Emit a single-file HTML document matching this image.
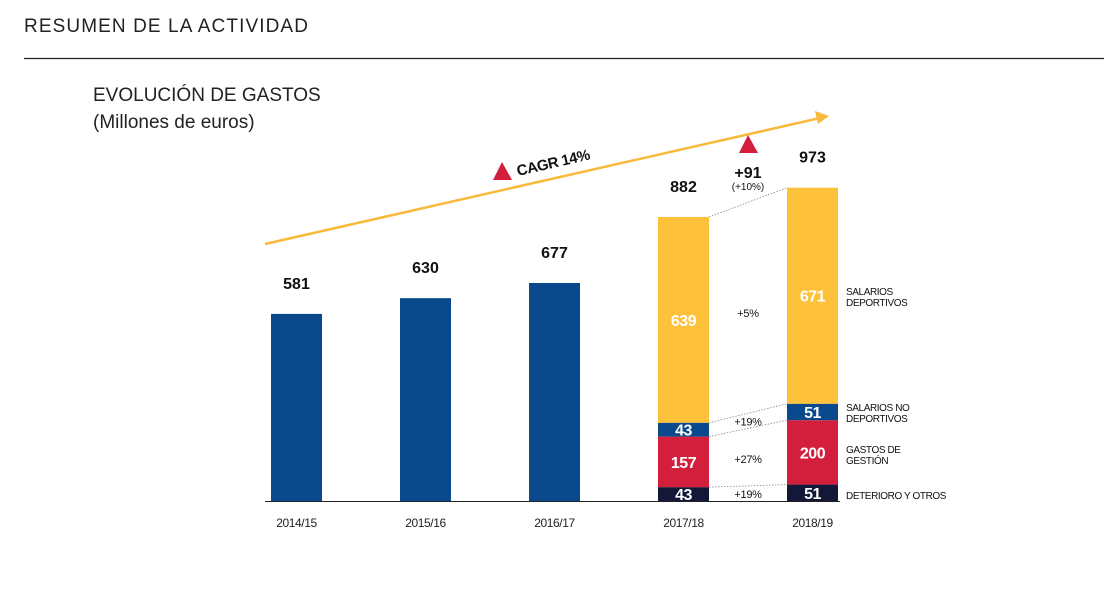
<!DOCTYPE html>
<html><head><meta charset="utf-8"><style>
html,body{margin:0;padding:0;background:#fff;width:1104px;height:601px;overflow:hidden;font-family:"Liberation Sans",sans-serif}
</style></head><body>
<svg id="chart" width="1104" height="601" viewBox="0 0 1104 601" xmlns="http://www.w3.org/2000/svg">
<text x="24" y="32" font-size="19" letter-spacing="1.1" fill="#222">RESUMEN DE LA ACTIVIDAD</text>
<line x1="24" y1="58.5" x2="1104" y2="58.5" stroke="#222" stroke-width="1.3"/>
<text x="93" y="101" font-size="19" fill="#222">EVOLUCIÓN DE GASTOS</text>
<text x="93" y="128" font-size="19" fill="#222">(Millones de euros)</text>
<g id="trend">
<line x1="265" y1="244" x2="820" y2="118" stroke="#F9B93A" stroke-width="2.5"/>
<polygon points="829,116 815,111 818,124" fill="#F9B93A"/>
<polygon points="502,162 493,180 512,180" fill="#D31F3C"/>
<text x="518" y="176" font-size="15" font-weight="bold" letter-spacing="-0.5" fill="#111" transform="rotate(-13 518 176)">CAGR 14%</text>
<polygon points="748,135 739,153 758,153" fill="#D31F3C"/>
<text x="748" y="178" font-size="16" font-weight="bold" text-anchor="middle" fill="#111">+91</text>
<text x="748" y="190" font-size="10" text-anchor="middle" fill="#111">(+10%)</text>
</g>
<g id="bars"></g>
</svg>
<script>
const categories = ["2014/15","2015/16","2016/17","2017/18","2018/19"];
const totals = [581,630,677,882,973];
const deterioro = [null,null,null,43,51];
const gestion = [null,null,null,157,200];
const salNoDep = [null,null,null,43,51];
const salDep = [null,null,null,639,671];
const growthLabels = ["+5%","+19%","+27%","+19%"];
const legendLabels = [["SALARIOS","DEPORTIVOS"],["SALARIOS NO","DEPORTIVOS"],["GASTOS DE","GESTIÓN"],["DETERIORO Y OTROS"]];

const NS="http://www.w3.org/2000/svg";
const g=document.getElementById('bars');
const base=501, k=0.322, barW=51;
const y=v=>base-v*k;
const xc=i=>296.5+i*129;
function mk(tag,attrs,txt){const e=document.createElementNS(NS,tag);for(const a in attrs)e.setAttribute(a,attrs[a]);if(txt!==undefined)e.textContent=txt;g.appendChild(e);return e;}
const bl=mk('line',{x1:265,y1:base+0.5,x2:840,y2:base+0.5,stroke:'#222','stroke-width':1});


const cols=['#141838','#D31F3C','#0A4A8C','#FDC13A'];
const segNames=['deterioro','gestion','salarios-no-deportivos','salarios-deportivos'];
const series=[deterioro,gestion,salNoDep,salDep];
const bounds=[];
categories.forEach((c,i)=>{
  const x=xc(i)-barW/2;
  if(salDep[i]==null){
    const r=mk('rect',{x:x,y:y(totals[i]),width:barW,height:totals[i]*k,fill:'#0A4A8C'});
    
    
  } else {
    let acc=0;const b=[];
    series.forEach((s,j)=>{
      const v=s[i];
      const r=mk('rect',{x:x,y:y(acc+v),width:barW,height:v*k,fill:cols[j]});
      
      
      const t=mk('text',{x:xc(i),y:y(acc+v/2)+6,'font-size':16,'font-weight':'bold','text-anchor':'middle',fill:'#fff','letter-spacing':'-0.5'},v);
      
      
      b.push([y(acc),y(acc+v)]);
      acc+=v;
    });
    bounds[i]=b;
  }
  const tl=mk('text',{x:xc(i),y:y(totals[i])-25,'font-size':16,'font-weight':'bold','text-anchor':'middle',fill:'#111'},totals[i]);
  
  
  const xl=mk('text',{x:xc(i),y:527,'font-size':12,'text-anchor':'middle',fill:'#222','letter-spacing':'-0.4'},c);
  
  
});
const a=bounds[3],b=bounds[4];
const x1=xc(3)+barW/2,x2=xc(4)-barW/2;
for(let j=0;j<4;j++){
  const l=mk('line',{x1:x1,y1:a[j][1],x2:x2,y2:b[j][1],stroke:'#888','stroke-width':0.8,'stroke-dasharray':'1.5,1.5'});
  
  
}
const gy=[ (a[3][0]+a[3][1])/2-7, (a[2][0]+a[2][1])/2-8, (a[1][0]+a[1][1])/2-3, (a[0][0]+a[0][1])/2 ];
growthLabels.forEach((s,j)=>{
  const t=mk('text',{x:(x1+x2)/2,y:gy[j]+4,'font-size':11,'text-anchor':'middle',fill:'#111','letter-spacing':'-0.3'},s);
  
  
});
const ly=[295,411,453,499];
legendLabels.forEach((ls,j)=>{
  ls.forEach((s,m)=>{
    const t=mk('text',{x:846,y:ly[j]+m*11,'font-size':10,fill:'#111','letter-spacing':'-0.4'},s);
    
    
  });
});
</script>
</body></html>
